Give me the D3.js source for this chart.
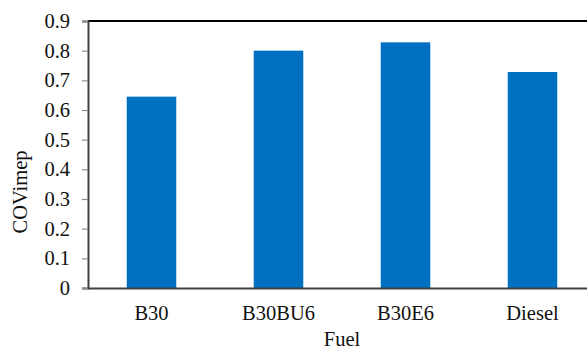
<!DOCTYPE html>
<html>
    <head>
        <meta charset="UTF-8">
        <title>COVimep by fuel</title>
        <script type="text/javascript" src="https://d3js.org/d3.v7.min.js"></script>
        <style>
            body { margin: 0; background: #fff; }
            svg { display: block; }
            text { font-family: "Liberation Serif", "Times New Roman", serif; fill: #111; }
        </style>
    </head>
    <body>
        <script>
            // data
            var fuels = ["B30", "B30BU6", "B30E6", "Diesel"];
            var covimep = [0.645, 0.80, 0.828, 0.728];
            var yTicks = [0, 0.1, 0.2, 0.3, 0.4, 0.5, 0.6, 0.7, 0.8, 0.9];

            var W = 587, H = 349;
            var pLeft = 88, pTop = 21, pBottom = 288, step = 127;
            var fs = "20.5px";

            var svg = d3.select("body").append("svg")
                .attr("width", W).attr("height", H);

            var x = d3.scaleBand()
                .domain(fuels)
                .range([pLeft, pLeft + step * fuels.length])
                .paddingInner(0.61)
                .paddingOuter(0.305);

            var y = d3.scaleLinear().domain([0, 0.9]).range([pBottom, pTop]);

            // bars
            svg.selectAll("rect.bar")
                .data(fuels)
              .enter().append("rect")
                .attr("class", "bar")
                .attr("x", function(d) { return x(d); })
                .attr("width", x.bandwidth())
                .attr("y", function(d, i) { return y(covimep[i]); })
                .attr("height", function(d, i) { return pBottom - y(covimep[i]); })
                .attr("fill", "#0070c0");

            // top frame line
            svg.append("line")
                .attr("x1", pLeft).attr("x2", W + 10)
                .attr("y1", y(0.9)).attr("y2", y(0.9))
                .attr("stroke", "#000").attr("stroke-width", 2.2);

            // y axis
            var yAxis = svg.append("g")
                .attr("transform", "translate(" + pLeft + ",0)")
                .call(d3.axisLeft(y).tickValues(yTicks).tickSize(6).tickPadding(12)
                    .tickFormat(function(d) { return d === 0 ? "0" : d3.format(".1f")(d); }));
            yAxis.select(".domain").attr("stroke", "#404040").attr("stroke-width", 2);
            yAxis.selectAll(".tick line").attr("stroke", "#8c8c8c").attr("stroke-width", 1.2);
            yAxis.selectAll(".tick text")
                .style("font-size", fs).style("font-family", "Liberation Serif").attr("fill", "#111");

            // x axis
            var xAxis = svg.append("g")
                .attr("transform", "translate(0," + pBottom + ")")
                .call(d3.axisBottom(x).tickSize(0).tickPadding(17.5));
            xAxis.select(".domain").attr("stroke", "#404040").attr("stroke-width", 2);
            xAxis.selectAll(".tick text")
                .style("font-size", fs).style("font-family", "Liberation Serif").attr("fill", "#111");

            // axis titles
            svg.append("text")
                .attr("x", (x("B30BU6") + x("B30E6") + x.bandwidth()) / 2)
                .attr("y", 346)
                .attr("text-anchor", "middle")
                .style("font-size", fs)
                .text("Fuel");

            svg.append("text")
                .attr("transform", "translate(27,192) rotate(-90)")
                .attr("text-anchor", "middle")
                .style("font-size", fs)
                .text("COVimep");
        </script>
    </body>
</html>
